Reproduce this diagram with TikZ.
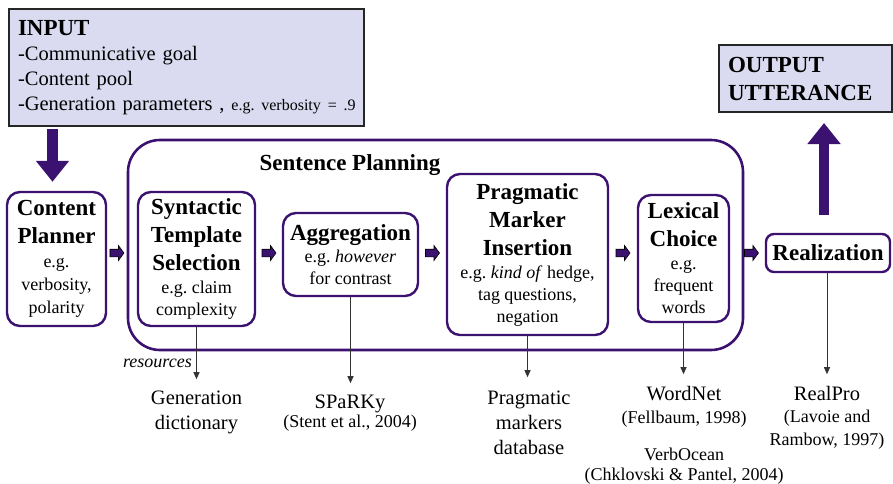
\documentclass[tikz,border=0pt]{standalone}
\usepackage{fontspec}
\setmainfont{Liberation Serif}
\usetikzlibrary{arrows.meta,calc}
\definecolor{pur}{RGB}{60,18,112}
\definecolor{lav}{RGB}{218,218,240}
\newcommand{\fB}{\fontsize{23}{28}\selectfont\bfseries}
\newcommand{\fR}{\fontsize{20.5}{25}\selectfont\mdseries}
\newcommand{\fS}{\fontsize{18}{22}\selectfont\mdseries}
\newcommand{\fT}{\fontsize{16}{20}\selectfont\mdseries}
\tikzset{
 box/.style={draw=pur, line width=2.4pt, rounded corners=13pt, fill=white, align=center, inner sep=0pt},
 graybox/.style={draw=black!85, line width=2pt, fill=lav, align=left, inner xsep=9pt, inner ysep=0pt},
 bigarrow/.style={draw=pur, line width=10.5pt, -{Triangle[width=32pt,length=21pt]}},
 res/.style={draw=black!80, line width=0.9pt, -{Triangle[width=6pt,length=7pt]}},
 restext/.style={align=center, inner sep=0pt, anchor=north, font=\fR},
 blockarr/.pic={\draw[fill=pur, draw=black, line width=0.6pt] (-7,-3.8) -- (1.5,-3.8) -- (1.5,-7.5) -- (7,0) -- (1.5,7.5) -- (1.5,3.8) -- (-7,3.8) -- cycle;}
}
\begin{document}
\begin{tikzpicture}[x=1pt,y=-1pt]
\useasboundingbox (0,0) rectangle (893,483);

% input and output
\node[graybox, text width=337pt, minimum height=117pt, anchor=north west, font=\fR] (input) at (8,8)
 {{\fB INPUT}\\-Communicative goal\\-Content pool\\\mbox{-Generation parameters , {\fT e.g.\ verbosity = .9}}};
\node[graybox, text width=155pt, minimum height=67pt, anchor=north west, font=\fB] (out) at (718,44)
 {{\fB OUTPUT}\\{\fB UTTERANCE}};

% sentence planning container
\node[draw=pur, line width=2.6pt, rounded corners=32pt, minimum width=615pt, minimum height=210pt, inner sep=0pt] (spl) at (435.5,245) {};
\node[font=\fB, anchor=base, inner sep=0pt] (spltitle) at (350,170) {Sentence Planning};

% stage boxes
\node[box, minimum width=99pt, minimum height=134pt, font=\fB] (cp) at (56.5,259)
 {{\fB Content}\\{\fB Planner}\\[-4pt]{\fS e.g.}\\[-5pt]{\fS verbosity,}\\[-5pt]{\fS polarity}};
\node[box, minimum width=117pt, minimum height=134pt, font=\fB] (sts) at (196.5,259)
 {{\fB Syntactic}\\{\fB Template}\\{\fB Selection}\\[-5pt]{\fS e.g.\ claim}\\[-6pt]{\fS complexity}};
\node[box, minimum width=135pt, minimum height=83pt, font=\fB] (agg) at (350.5,254.5)
 {{\fB Aggregation}\\[-6pt]{\fS e.g.\ \textit{however}}\\[-6pt]{\fS for contrast}};
\node[box, minimum width=161pt, minimum height=161pt, font=\fB] (pmi) at (527.5,254.5)
 {{\fB Pragmatic}\\{\fB Marker}\\{\fB Insertion}\\[-5pt]{\fS e.g.\ \textit{kind of} hedge,}\\[-6pt]{\fS tag questions,}\\[-6pt]{\fS negation}};
\node[box, minimum width=91pt, minimum height=127pt, font=\fB] (lex) at (683.5,258.5)
 {{\fB Lexical}\\{\fB Choice}\\[-5pt]{\fS e.g.}\\[-6pt]{\fS frequent}\\[-6pt]{\fS words}};
\node[box, rounded corners=8pt, minimum width=124pt, minimum height=38pt, font=\fB] (real) at (828,253)
 {Realization};

% small block arrows
\path ($(cp.east)!0.5!(spl.west)$) coordinate (m1);
\path ($(sts.east)!0.5!(agg.west)$) coordinate (m2);
\path ($(agg.east)!0.5!(pmi.west)$) coordinate (m3);
\path ($(pmi.east)!0.5!(lex.west)$) coordinate (m4);
\path ($(spl.east)!0.35!(real.west)$) coordinate (m5);
\pic at (m1 |- real) {blockarr};
\pic at (m2 |- real) {blockarr};
\pic at (m3 |- real) {blockarr};
\pic at (m4 |- real) {blockarr};
\pic at (m5 |- real) {blockarr};

% big arrows
\draw[bigarrow, shorten <=2pt, shorten >=9pt] ([xshift=-4pt]cp.north |- input.south) -- ([xshift=-4pt]cp.north);
\draw[bigarrow, shorten <=18pt, shorten >=10pt] ([xshift=-4pt]real.north) -- ([xshift=-4pt]real.north |- out.south);

% resources
\node[font=\fS\itshape, anchor=base east, inner sep=0pt] (resl) at (192,367) {resources};
\coordinate (e1) at ($(sts.south)+(0,52)$);
\coordinate (e2) at ($(agg.south)+(0,86)$);
\coordinate (e3) at ($(pmi.south)+(0,41)$);
\coordinate (e4) at ($(lex.south)+(0,51)$);
\coordinate (e5) at ($(real.south)+(-1,101)$);
\draw[res] (sts.south) -- (e1);
\draw[res] (agg.south) -- (e2);
\draw[res] (pmi.south) -- (e3);
\draw[res] (lex.south) -- (e4);
\draw[res] ([xshift=-1pt]real.south) -- (e5);

\node[restext] (gd) at (196.5,391) {{\fR Generation}\\{\fR dictionary}};
\node[restext] (spk) at (350,395) {{\fR SPaRKy}\\[-6pt]{\fS (Stent et al., 2004)}};
\node[restext] (pmd) at (529,391) {{\fR Pragmatic}\\{\fR markers}\\{\fR database}};
\node[restext] (wn) at (684,386) {{\fR WordNet}\\[-2pt]{\fS (Fellbaum, 1998)}\\[12pt]{\fS VerbOcean}\\[-5pt]{\fS (Chklovski \& Pantel, 2004)}};
\node[restext] (rp) at (827,386) {{\fR RealPro}\\[-3pt]{\fS (Lavoie and}\\[-2pt]{\fS Rambow, 1997)}};
\end{tikzpicture}
\end{document}
